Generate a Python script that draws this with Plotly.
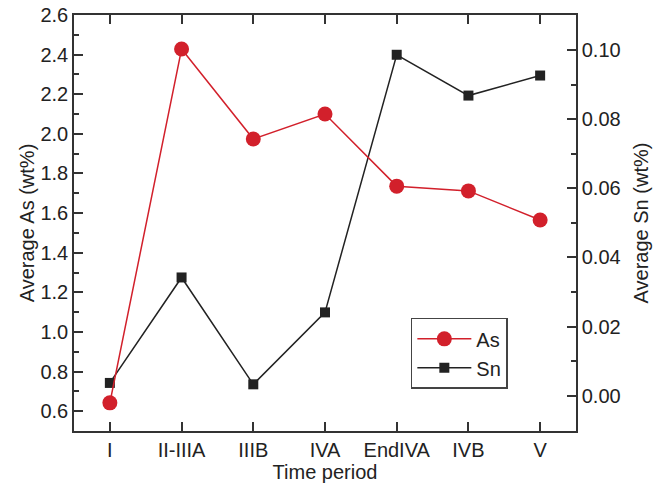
import plotly.graph_objects as go

periods = ["I", "II-IIIA", "IIIB", "IVA", "EndIVA", "IVB", "V"]
as_values = [0.642, 2.428, 1.974, 2.100, 1.736, 1.712, 1.565]
sn_values = [0.0037, 0.0342, 0.0033, 0.0241, 0.0986, 0.0868, 0.0926]

RED = "#d2202b"
BLACK = "#222222"
FONT = "Liberation Sans, Arial, Helvetica, sans-serif"
FS = 20

fig = go.Figure()
fig.add_trace(go.Scatter(
    x=periods, y=as_values, name="As", yaxis="y2",
    mode="lines+markers",
    line=dict(color=RED, width=1.5),
    marker=dict(symbol="circle", size=15, color=RED),
))
fig.add_trace(go.Scatter(
    x=periods, y=sn_values, name="Sn", yaxis="y",
    mode="lines+markers",
    line=dict(color=BLACK, width=1.5),
    marker=dict(symbol="square", size=10, color=BLACK),
))

axis_common = dict(
    showline=True, linecolor="#333333", linewidth=1.5,
    ticks="inside", tickcolor="#333333", tickwidth=1.5, ticklen=9,
    showgrid=False, zeroline=False, automargin=False,
    tickfont=dict(size=FS, color="#222222", family=FONT),
)

fig.update_layout(
    width=665, height=486,
    margin=dict(l=74, r=89, t=15, b=55),
    paper_bgcolor="white", plot_bgcolor="white",
    font=dict(family=FONT, color="#222222"),
    xaxis=dict(
        **axis_common,
        type="category", range=[-0.5, 6.5], mirror="ticks",
        title=dict(text="Time period", font=dict(size=FS), standoff=1),
    ),
    yaxis2=dict(
        **axis_common,
        side="left", anchor="x",
        range=[0.5, 2.6], dtick=0.2, tick0=0.6, tickformat=".1f",
        minor=dict(ticks="inside", ticklen=5, tickcolor="#333333", dtick=0.1, tickwidth=1.5),
        title=dict(text="Average As (wt%)", font=dict(size=FS), standoff=0),
    ),
    yaxis=dict(
        **axis_common,
        side="right", anchor="x",
        range=[-0.0102, 0.1101], dtick=0.02, tick0=0, tickformat=".2f",
        minor=dict(ticks="inside", ticklen=5, tickcolor="#333333", dtick=0.01, tickwidth=1.5),
        title=dict(text="Average Sn (wt%)", font=dict(size=FS), standoff=14),
    ),
    legend=dict(
        x=0.671, y=0.272, xanchor="left", yanchor="top",
        bordercolor="#444444", borderwidth=1.5, bgcolor="white",
        font=dict(size=FS, family=FONT), tracegroupgap=0,
        itemwidth=54,
    ),
)
fig.update_layout(yaxis2_overlaying="y")

fig.write_html(
    "out.html",
    config={"displayModeBar": False},
    post_script="document.body.style.margin='0';",
)
